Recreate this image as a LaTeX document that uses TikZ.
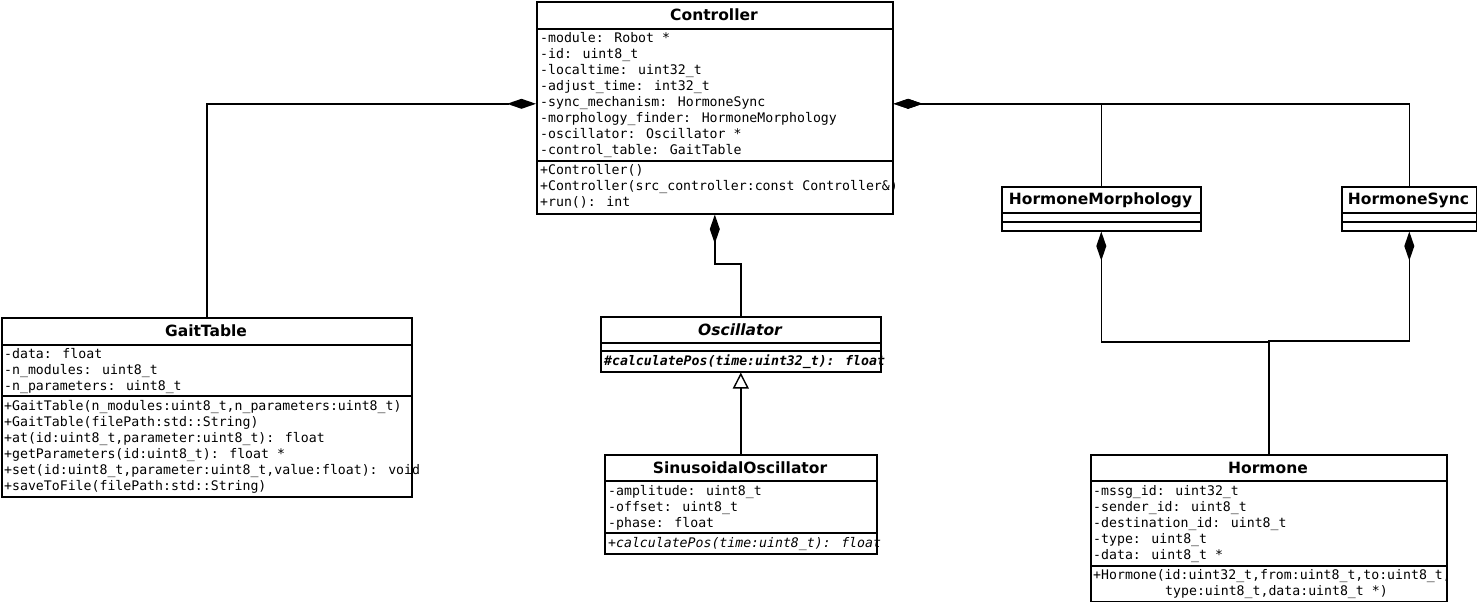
\documentclass[tikz,border=0pt]{standalone}
\usepackage{fontspec}
\setmainfont{DejaVu Sans}
\newfontfamily\monof{DejaVu Sans Mono}
\usetikzlibrary{arrows.meta}
\tikzset{
  classbox/.style={draw, line width=1.6pt, anchor=north west, inner sep=0pt},
  sepline/.style={line width=1.6pt},
  ctitle/.style={font=\bfseries\fontsize{15.5}{15.5}\selectfont, inner sep=0pt, anchor=center},
  member/.style={font=\monof\fontsize{13.2}{13.2}\selectfont, anchor=base west, inner sep=0pt},
  conn/.style={line width=1.4pt},
  comp/.style={-{Diamond[length=29pt,width=10pt]}},
  inh/.style={-{Triangle[open,length=16pt,width=16pt,fill=white]}}
}
\begin{document}
\begin{tikzpicture}[x=1pt,y=-1pt]
\useasboundingbox (0,0) rectangle (1477,602);

% Controller
\node[classbox, minimum width=356pt, minimum height=212pt] (ctrl) at (536,1) {};
\draw[sepline] (536,29) -- (892,29);
\draw[sepline] (536,161) -- (892,161);
\node[ctitle] (ctrlT) at (714,15) {Controller};
\node[member] (c1) at (540,42.5) {-module: Robot *};
\node[member] (c2) at (540,58.5) {-id: uint8\_t};
\node[member] (c3) at (540,74.5) {-localtime: uint32\_t};
\node[member] (c4) at (540,90.5) {-adjust\_time: int32\_t};
\node[member] (c5) at (540,106.5) {-sync\_mechanism: HormoneSync};
\node[member] (c6) at (540,122.5) {-morphology\_finder: HormoneMorphology};
\node[member] (c7) at (540,138.5) {-oscillator: Oscillator *};
\node[member] (c8) at (540,154.5) {-control\_table: GaitTable};
\node[member] (c9) at (540,174.5) {+Controller()};
\node[member] (c10) at (540,190.5) {+Controller(src\_controller:const Controller\&)};
\node[member] (c11) at (540,206.5) {+run(): int};

% GaitTable
\node[classbox, minimum width=410pt, minimum height=179pt] (gait) at (1,317) {};
\draw[sepline] (1,345) -- (411,345);
\draw[sepline] (1,396) -- (411,396);
\node[ctitle] (gaitT) at (206,331) {GaitTable};
\node[member] (g1) at (4,358.5) {-data: float};
\node[member] (g2) at (4,374.5) {-n\_modules: uint8\_t};
\node[member] (g3) at (4,390.5) {-n\_parameters: uint8\_t};
\node[member] (g4) at (4,410.5) {+GaitTable(n\_modules:uint8\_t,n\_parameters:uint8\_t)};
\node[member] (g5) at (4,426.5) {+GaitTable(filePath:std::String)};
\node[member] (g6) at (4,442.5) {+at(id:uint8\_t,parameter:uint8\_t): float};
\node[member] (g7) at (4,458.5) {+getParameters(id:uint8\_t): float *};
\node[member] (g8) at (4,474.5) {+set(id:uint8\_t,parameter:uint8\_t,value:float): void};
\node[member] (g9) at (4,490.5) {+saveToFile(filePath:std::String)};

% Oscillator
\node[classbox, minimum width=280pt, minimum height=55pt] (osc) at (600,316) {};
\draw[sepline] (600,343) -- (880,343);
\draw[sepline] (600,351) -- (880,351);
\node[ctitle, font=\bfseries\itshape\fontsize{15.5}{15.5}\selectfont] (oscT) at (740,329.5) {Oscillator};
\node[member, font=\monof\bfseries\itshape\fontsize{13.2}{13.2}\selectfont] (o1) at (604,365.5) {\#calculatePos(time:uint32\_t): float};

% SinusoidalOscillator
\node[classbox, minimum width=272pt, minimum height=99pt] (sin) at (604,454) {};
\draw[sepline] (604,481) -- (876,481);
\draw[sepline] (604,533) -- (876,533);
\node[ctitle] (sinT) at (740,467.5) {SinusoidalOscillator};
\node[member] (s1) at (608,495.5) {-amplitude: uint8\_t};
\node[member] (s2) at (608,511.5) {-offset: uint8\_t};
\node[member] (s3) at (608,527.5) {-phase: float};
\node[member, font=\monof\itshape\fontsize{13.2}{13.2}\selectfont] (s4) at (608,547.5) {+calculatePos(time:uint8\_t): float};

% HormoneMorphology
\node[classbox, minimum width=199pt, minimum height=44pt] (hmorph) at (1001,186) {};
\draw[sepline] (1001,213) -- (1200,213);
\draw[sepline] (1001,222) -- (1200,222);
\node[ctitle] (hmorphT) at (1100.5,200) {HormoneMorphology};

% HormoneSync
\node[classbox, minimum width=135pt, minimum height=44pt] (hsync) at (1341,186) {};
\draw[sepline] (1341,213) -- (1476,213);
\draw[sepline] (1341,222) -- (1476,222);
\node[ctitle] (hsyncT) at (1408.5,200) {HormoneSync};

% Hormone
\node[classbox, minimum width=356pt, minimum height=147pt] (horm) at (1090,454) {};
\draw[sepline] (1090,481) -- (1446,481);
\draw[sepline] (1090,566) -- (1446,566);
\node[ctitle] (hormT) at (1268,467.5) {Hormone};
\node[member] (h1) at (1093,495.5) {-mssg\_id: uint32\_t};
\node[member] (h2) at (1093,511.5) {-sender\_id: uint8\_t};
\node[member] (h3) at (1093,527.5) {-destination\_id: uint8\_t};
\node[member] (h4) at (1093,543.5) {-type: uint8\_t};
\node[member] (h5) at (1093,559.5) {-data: uint8\_t *};
\node[member] (h6) at (1093,579.5) {+Hormone(id:uint32\_t,from:uint8\_t,to:uint8\_t,};
\node[member] (h7) at (1165,595.5) {type:uint8\_t,data:uint8\_t *)};

% Connectors
\draw[conn, comp] (gait.north) |- ([yshift=4pt]ctrl.west);
\draw[conn, comp] (hmorph.north) |- ([yshift=4pt]ctrl.east);
\draw[conn, comp] (hsync.north) |- ([yshift=4pt]ctrl.east);
\draw[conn, comp] (osc.north) -- ++(0,-52) -| (ctrl.south);
\draw[conn, inh] (sin.north) -- (osc.south);
\draw[conn, comp] (horm.north) -- ++(0,-112) -| (hmorph.south);
\draw[conn, comp] (horm.north) -- ++(0,-113) -| (hsync.south);
\end{tikzpicture}
\end{document}
